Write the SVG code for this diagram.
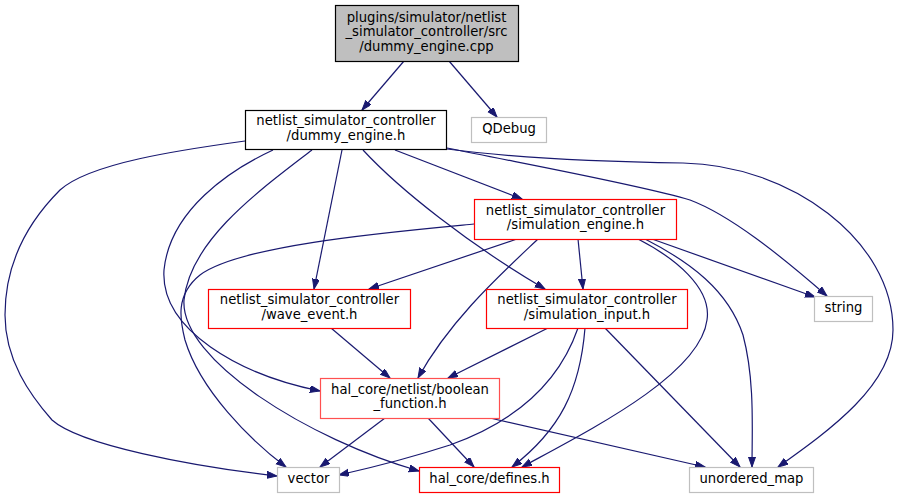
<svg xmlns="http://www.w3.org/2000/svg" width="899" height="499" viewBox="0 0 899 499">
<style>
text{font-family:"DejaVu Sans","Liberation Sans",sans-serif;font-size:13.2px;fill:#000;text-anchor:middle}
.n{fill:#fff;stroke-width:1.2}
.red{stroke:#ff0000}
.lred{stroke:#ff5050}
.gray{stroke:#bfbfbf}
.blk{stroke:#000}
.root{fill:#bfbfbf;stroke:#000;stroke-width:1.2}
#edges path{fill:none;stroke:#191970;stroke-width:1.2}
</style>
<defs>
<marker id="a" markerWidth="11" markerHeight="8" refX="10" refY="3.5" orient="auto" markerUnits="userSpaceOnUse"><path d="M0,0L10,3.5L0,7z" fill="#191970" stroke="#191970" stroke-width="1"/></marker>
</defs>
<rect width="899" height="499" fill="#fff"/>
<g id="edges">
<path marker-end="url(#a)" d="M404,61 L362,110"/>
<path marker-end="url(#a)" d="M449,61 L497,117"/>
<path marker-end="url(#a)" d="M245,141 C180,150 90,163 60,190 C30,220 5,260 5,315 C5,360 30,395 52,420 C80,445 190,466 277,476"/>
<path marker-end="url(#a)" d="M273,150 C230,170 170,210 164,270 C160,330 240,375 320,391"/>
<path marker-end="url(#a)" d="M312,150 C260,190 190,240 184,300 C180,360 310,440 419,471"/>
<path marker-end="url(#a)" d="M474,224 C390,232 240,245 200,275 C175,295 180,320 185,340 C200,390 250,440 286,467"/>
<path marker-end="url(#a)" d="M342,150 L314,289"/>
<path marker-end="url(#a)" d="M363,150 C400,190 470,245 545,289"/>
<path marker-end="url(#a)" d="M395,150 L522,199"/>
<path marker-end="url(#a)" d="M447,148 C530,165 640,185 690,200 C730,215 780,255 827,296"/>
<path marker-end="url(#a)" d="M447,149 C530,160 620,162 683,163 C790,165 893,240 893,330 C893,385 830,430 778,467"/>
<path marker-end="url(#a)" d="M652,239 L815,297"/>
<path marker-end="url(#a)" d="M645,239 C690,262 728,290 743,335 C755,380 752,430 752,467"/>
<path marker-end="url(#a)" d="M638,239 C675,258 712,288 707,320 C700,375 590,430 522,467"/>
<path marker-end="url(#a)" d="M578,239 L583,289"/>
<path marker-end="url(#a)" d="M517,239 L369,289"/>
<path marker-end="url(#a)" d="M538,239 C500,275 450,320 418,378"/>
<path marker-end="url(#a)" d="M331,328 L390,378"/>
<path marker-end="url(#a)" d="M548,328 L448,378"/>
<path marker-end="url(#a)" d="M578,328 C560,380 520,420 450,445 C410,458 370,468 339,475"/>
<path marker-end="url(#a)" d="M585,328 C580,390 560,430 512,467"/>
<path marker-end="url(#a)" d="M605,328 L740,467"/>
<path marker-end="url(#a)" d="M385,418 L320,467"/>
<path marker-end="url(#a)" d="M428,418 L474,467"/>
<path marker-end="url(#a)" d="M490,418 L705,467"/>
</g>
<g id="root">
<rect class="root" x="335.5" y="5.5" width="183" height="56"/>
<text x="426.5" y="21.5">plugins/simulator/netlist</text>
<text x="426.5" y="36">_simulator_controller/src</text>
<text x="426.5" y="50.5">/dummy_engine.cpp</text>
</g>
<g id="dummy_engine">
<rect class="n blk" x="245.5" y="110.5" width="201" height="39"/>
<text x="346" y="125">netlist_simulator_controller</text>
<text x="346" y="139.5">/dummy_engine.h</text>
</g>
<g id="qdebug">
<rect class="n gray" x="471.5" y="117.5" width="75" height="25"/>
<text x="509" y="133">QDebug</text>
</g>
<g id="simulation_engine">
<rect class="n red" x="474.5" y="199.5" width="202" height="40"/>
<text x="575.5" y="214.5">netlist_simulator_controller</text>
<text x="575.5" y="229">/simulation_engine.h</text>
</g>
<g id="wave_event">
<rect class="n red" x="208.5" y="289.5" width="202" height="39"/>
<text x="309.5" y="304">netlist_simulator_controller</text>
<text x="309.5" y="318.5">/wave_event.h</text>
</g>
<g id="simulation_input">
<rect class="n red" x="486.5" y="289.5" width="201" height="39"/>
<text x="587" y="304">netlist_simulator_controller</text>
<text x="587" y="318.5">/simulation_input.h</text>
</g>
<g id="string">
<rect class="n gray" x="814.5" y="296.5" width="58" height="25"/>
<text x="843.5" y="312">string</text>
</g>
<g id="boolean_function">
<rect class="n lred" x="320.5" y="378.5" width="179" height="40"/>
<text x="410" y="393.5">hal_core/netlist/boolean</text>
<text x="410" y="408">_function.h</text>
</g>
<g id="vector">
<rect class="n gray" x="277.5" y="467.5" width="62" height="25"/>
<text x="308.5" y="483">vector</text>
</g>
<g id="defines">
<rect class="n red" x="419.5" y="467.5" width="140" height="25"/>
<text x="489.5" y="483">hal_core/defines.h</text>
</g>
<g id="unordered_map">
<rect class="n gray" x="689.5" y="467.5" width="124" height="25"/>
<text x="751.5" y="483">unordered_map</text>
</g>
</svg>
